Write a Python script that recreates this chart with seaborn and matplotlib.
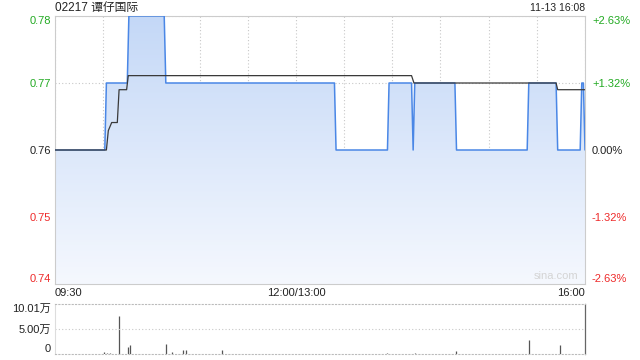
import numpy as np
import pandas as pd
import seaborn as sns
import matplotlib.pyplot as plt
from matplotlib.colors import LinearSegmentedColormap
from matplotlib.patches import PathPatch

# minutes since 09:30 (trading minutes, lunch removed: 150 = 12:00/13:00, 330 = 16:00)
price_min = [0, 31, 32, 45, 46, 68, 69, 174, 175, 207, 208, 222, 223, 224,
             249, 250, 294, 295, 312, 313, 327, 328, 329, 330]
price_val = [0.76, 0.76, 0.77, 0.77, 0.78, 0.78, 0.77, 0.77, 0.76, 0.76, 0.77, 0.77, 0.76, 0.77,
             0.77, 0.76, 0.76, 0.77, 0.77, 0.76, 0.76, 0.77, 0.77, 0.76]

avg_min = [0, 32, 33.2, 35.3, 38.8, 39.9, 44.6, 45.6, 222, 223.5, 312, 313, 330]
avg_val = [0.76, 0.76, 0.7629, 0.7641, 0.7641, 0.769, 0.769, 0.7711, 0.7711, 0.770, 0.770, 0.769, 0.769]

vol_min = [30.5, 32.4, 34, 40, 45.5, 46.4, 69.4, 72.9, 79.7, 81.6, 104, 206.7, 224, 249.7, 295, 314.4]
vol_wan = [0.4, 0.3, 0.3, 7.67, 1.4, 1.86, 2.0, 0.5, 0.9, 0.9, 0.9, 0.3, 0.3, 0.7, 2.8, 1.8]

prev_close = 0.76
y_ticks = [0.74, 0.75, 0.76, 0.77, 0.78]
pct_labels = ['-2.63%', '-1.32%', '0.00%', '+1.32%', '+2.63%']
tick_colors = ['#ee2a2a', '#ee2a2a', '#222222', '#22aa22', '#22aa22']
x_labels = {0: '09:30', 150: '12:00/13:00', 330: '16:00'}

sns.set_theme(style='white')
plt.rcParams['font.family'] = ['Liberation Sans', 'Noto Sans CJK SC', 'DejaVu Sans']

fig = plt.figure(figsize=(6.4, 3.6), dpi=100)
ax = fig.add_axes([55/640, 1-284/360, 530/640, 268/360])
axv = fig.add_axes([55/640, 1-354/360, 530/640, 50/360])

price = pd.DataFrame({'minute': price_min, 'price': price_val})
avg = pd.DataFrame({'minute': avg_min, 'avg': avg_val})

# gradient fill under the price line
poly = ax.fill_between(price['minute'], price['price'], 0.74, color='none', lw=0)
clip = PathPatch(poly.get_paths()[0], transform=ax.transData, facecolor='none', edgecolor='none')
ax.add_patch(clip)
cmap = LinearSegmentedColormap.from_list('fillgrad', ['#f5f8fe', '#c4d8f7'])
img = ax.imshow(np.linspace(0, 1, 256).reshape(-1, 1), extent=[0, 330, 0.74, 0.78],
                aspect='auto', origin='lower', cmap=cmap, zorder=1)
img.set_clip_path(clip)

sns.lineplot(data=price, x='minute', y='price', ax=ax, color='#4a87e6', lw=1.1, zorder=3)
sns.lineplot(data=avg, x='minute', y='avg', ax=ax, color='#3a3a3a', lw=0.9, zorder=4)

ax.set_xlim(0, 330)
ax.set_ylim(0.74, 0.78)
ax.set_xlabel('')
ax.set_ylabel('')
ax.set_xticks(range(0, 331, 30))
ax.set_xticklabels([x_labels.get(m, '') for m in range(0, 331, 30)], fontsize=8, color='#222222')
ax.set_yticks(y_ticks)
ax.set_yticklabels([f'{v:.2f}' for v in y_ticks], fontsize=8)
ax.tick_params(length=0, pad=3)
ax.grid(True, color='#c8c8c8', linestyle=(0, (1, 2)), lw=0.8)
for sp in ax.spines.values():
    sp.set_color('#cccccc')
    sp.set_linewidth(0.8)

xl = ax.get_xticklabels()
xl[0].set_ha('left')
xl[-1].set_ha('right')

for lab, c in zip(ax.get_yticklabels(), tick_colors):
    lab.set_color(c)
ax.get_yticklabels()[0].set_va('bottom')
ax.get_yticklabels()[-1].set_va('top')

axr = ax.twinx()
axr.set_ylim(0.74, 0.78)
axr.set_yticks(y_ticks)
axr.set_yticklabels(pct_labels, fontsize=8)
axr.tick_params(length=0, pad=5)
for lab, c in zip(axr.get_yticklabels(), tick_colors):
    lab.set_color(c)
axr.get_yticklabels()[0].set_va('bottom')
axr.get_yticklabels()[-1].set_va('top')
for sp in axr.spines.values():
    sp.set_visible(False)
axr.grid(False)

ax.text(326, 0.7405, 'sina.com', color='#d4d4d4', fontsize=8, ha='right', va='bottom', zorder=5)

# volume panel
axv.vlines(vol_min, 0, vol_wan, color='#555555', lw=0.9)
axv.set_xlim(0, 330)
axv.set_ylim(0, 10.01)
axv.set_xticks([])
axv.set_yticks([0, 5.0, 10.01])
axv.set_yticklabels(['0', '5.00万', '10.01万'], fontsize=8, color='#222222')
axv.tick_params(length=0, pad=3)
vl = axv.get_yticklabels()
vl[0].set_va('bottom')
vl[2].set_va('top')
axv.axhline(5.0, color='#c8c8c8', linestyle=(0, (1, 2)), lw=0.8)
for side in ['top', 'bottom']:
    axv.spines[side].set_color('#bbbbbb')
    axv.spines[side].set_linestyle((0, (1, 2)))
    axv.spines[side].set_linewidth(0.8)
axv.spines['left'].set_color('#dddddd')
axv.spines['left'].set_linewidth(0.8)
axv.spines['right'].set_color('#666666')
axv.spines['right'].set_linewidth(0.9)

fig.text(55/640, 1-8/360, '02217 谭仔国际', fontsize=8.5, color='#222222', va='center', ha='left')
fig.text(585/640, 1-8/360, '11-13 16:08', fontsize=7.5, color='#222222', va='center', ha='right')

fig.savefig('out.png', dpi=100)
